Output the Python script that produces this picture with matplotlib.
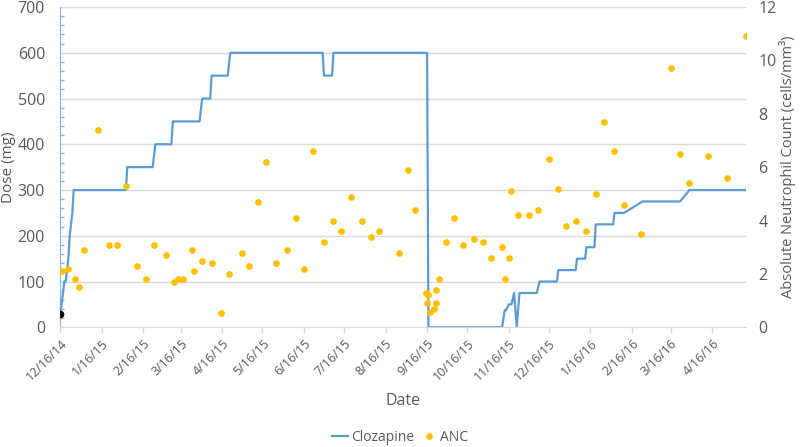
import datetime as dt

import matplotlib

matplotlib.use("Agg")
import matplotlib.dates as mdates
import matplotlib.pyplot as plt
from matplotlib.lines import Line2D
from matplotlib.ticker import FuncFormatter, MultipleLocator

plt.rcParams["font.family"] = ["Open Sans", "DejaVu Sans"]

start_date = dt.date(2014, 12, 16)

# clozapine dose (mg), day offsets from start_date
dose_day = [0, 2, 3, 4, 6, 7, 9, 10, 49, 50, 69, 71, 83, 84, 104, 106, 112, 113,
            125, 127, 196, 197, 203, 204, 274, 275, 330, 332, 333, 335, 337, 339,
            341, 343, 356, 358, 371, 372, 385, 386, 392, 393, 399, 400, 413, 414,
            421, 435, 463, 470, 512]
dose_mg = [30, 75, 100, 100, 150, 200, 250, 300, 300, 350, 350, 400, 400, 450,
           450, 500, 500, 550, 550, 600, 600, 550, 550, 600, 600, 0, 0, 37.5, 37.5,
           50, 50, 75, 0, 75, 75, 100, 100, 125, 125, 150, 150, 175, 175, 225, 225,
           250, 250, 275, 275, 300, 300]

# absolute neutrophil count, day offsets from start_date
anc_day = [1, 6, 11, 14, 18, 28, 36, 42, 49, 57, 64, 70, 79, 85, 88, 92, 98, 100,
           106, 113, 120, 126, 136, 141, 148, 154, 161, 169, 176, 182, 189, 197,
           204, 210, 217, 225, 232, 238, 253, 260, 265, 273, 274, 275, 276, 279,
           281, 281, 283, 288, 294, 301, 309, 316, 322, 330, 332, 335, 337, 342,
           350, 357, 365, 372, 378, 385, 393, 400, 406, 414, 421, 434, 456, 463,
           470, 484, 498, 512]
anc_value = [2.1, 2.2, 1.8, 1.5, 2.9, 7.4, 3.1, 3.1, 5.3, 2.3, 1.8, 3.1, 2.7, 1.7,
             1.8, 1.8, 2.9, 2.1, 2.5, 2.4, 0.55, 2.0, 2.8, 2.3, 4.7, 6.2, 2.4, 2.9,
             4.1, 2.2, 6.6, 3.2, 4.0, 3.6, 4.9, 4.0, 3.4, 3.6, 2.8, 5.9, 4.4, 1.3,
             0.9, 1.2, 0.56, 0.68, 0.9, 1.4, 1.8, 3.2, 4.1, 3.1, 3.3, 3.2, 2.6, 3.0,
             1.8, 2.6, 5.1, 4.2, 4.2, 4.4, 6.3, 5.2, 3.8, 4.0, 3.6, 5.0, 7.7, 6.6,
             4.6, 3.5, 9.7, 6.5, 5.4, 6.4, 5.6, 10.9]

dose_dates = [start_date + dt.timedelta(days=d) for d in dose_day]
anc_dates = [start_date + dt.timedelta(days=d) for d in anc_day]

blue = "#5b9bd5"
gold = "#ffc000"
text_col = "#595959"
grid_col = "#d9d9d9"


def date_label(value, _pos):
    d = mdates.num2date(value)
    return f"{d.month}/{d.day}/{d:%y}"


fig = plt.figure(figsize=(8.0, 4.47), dpi=100)
ax1 = fig.add_axes([0.0754, 0.2678, 0.8567, 0.7165])
ax2 = ax1.twinx()

ax1.plot(dose_dates, dose_mg, color=blue, lw=1.6, zorder=3)
ax1.plot(dose_dates[:1], dose_mg[:1], "o", color="black", ms=4.5, zorder=4)
ax2.plot(anc_dates, anc_value, "o", color=gold, ms=3.8, lw=0)

ax1.set_xlim(start_date, start_date + dt.timedelta(days=512))
ax1.set_ylim(0, 700)
ax2.set_ylim(0, 12)

ax1.yaxis.set_major_locator(MultipleLocator(100))
ax1.yaxis.set_minor_locator(MultipleLocator(20))
ax2.yaxis.set_major_locator(MultipleLocator(2))
ax1.grid(axis="y", color=grid_col, lw=1.0)
ax1.set_axisbelow(True)

ax1.xaxis.set_major_locator(mdates.MonthLocator(bymonthday=16))
ax1.xaxis.set_major_formatter(FuncFormatter(date_label))
ax1.tick_params(axis="x", colors=grid_col, length=4, width=1, labelcolor=text_col,
                labelsize=9, labelrotation=45, pad=3)
plt.setp(ax1.get_xticklabels(), ha="right", rotation_mode="anchor")
ax1.tick_params(axis="y", which="major", length=0, labelcolor=text_col, labelsize=11.5, pad=11)
ax1.tick_params(axis="y", which="minor", direction="in", length=3, color="#8fb6e0", width=1)
ax2.tick_params(axis="y", length=0, labelcolor=text_col, labelsize=11.5, pad=9)

for ax in (ax1, ax2):
    for side in ("top", "right"):
        ax.spines[side].set_visible(False)
ax2.spines["left"].set_visible(False)
ax2.spines["bottom"].set_visible(False)
ax1.spines["left"].set_color("#8fb6e0")
ax1.spines["bottom"].set_color(grid_col)

ax1.set_ylabel("Dose (mg)", color=text_col, fontsize=11, labelpad=1)
ax2.set_ylabel("Absolute Neutrophil Count (cells/mm³)", color=text_col, fontsize=10.5,
               labelpad=2)
ax1.set_xlabel("Date", color=text_col, fontsize=11.5, labelpad=7)

handles = [
    Line2D([], [], color=blue, lw=1.6),
    Line2D([], [], color=gold, marker="o", ms=3.8, lw=0),
]
fig.legend(handles, ["Clozapine", "ANC"], loc="center", bbox_to_anchor=(0.5, 0.022),
           ncol=2, frameon=False, fontsize=10, labelcolor=text_col,
           handlelength=1.2, handletextpad=0.2, columnspacing=0.5)

fig.savefig("out.png", dpi=100)
